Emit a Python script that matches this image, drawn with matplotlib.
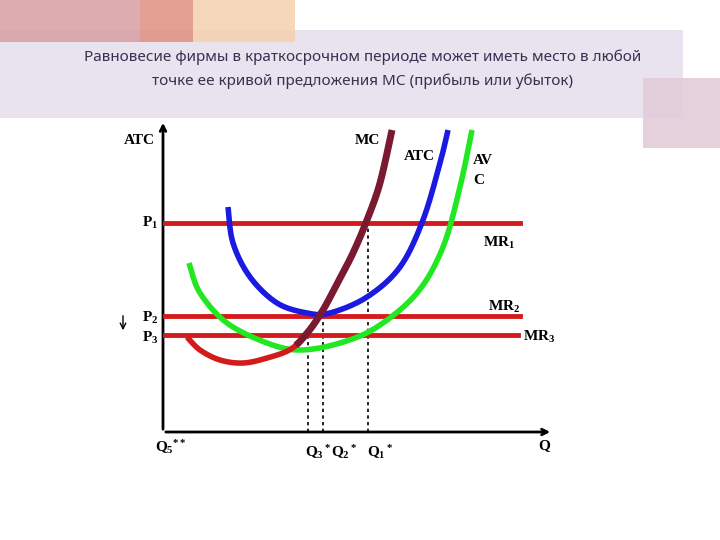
import numpy as np
import matplotlib
matplotlib.use("Agg")
import matplotlib.pyplot as plt
from matplotlib.patches import Rectangle

plt.rcParams["mathtext.fontset"] = "custom"
plt.rcParams["mathtext.rm"] = "Liberation Serif:bold"
plt.rcParams["mathtext.it"] = "Liberation Serif:bold"
plt.rcParams["mathtext.bf"] = "Liberation Serif:bold"
plt.rcParams["mathtext.default"] = "rm"

# Curve data (Q, price); origin at axes corner
atc_q = [65, 70, 87, 114, 144, 167, 204, 237, 260, 277, 285]
atc_p = [225, 189, 155, 129, 119, 119, 135, 165, 212, 269, 302]
avc_q = [26, 37, 64, 104, 137, 177, 214, 254, 280, 297, 309]
avc_p = [169, 139, 109, 89, 82, 89, 105, 139, 185, 245, 302]
mc_q = [24, 37, 57, 80, 104, 128, 145, 160, 175, 190, 204, 217, 229]
mc_p = [95, 82, 72, 69, 74, 83, 100, 122, 150, 179, 212, 249, 302]
price_levels = [209, 116, 97]
price_labels = ["P$_1$", "P$_2$", "P$_3$"]
mr_labels = ["MR$_1$", "MR$_2$", "MR$_3$"]
q_star = [145, 160, 205]
q_star_p = [97, 116, 209]
q_labels = ["Q$_3$$^*$", "Q$_2$$^*$", "Q$_1$$^*$"]

def smooth(xs, ys, n=20):
    P = np.column_stack([xs, ys]).astype(float)
    P = np.vstack([P[0], P, P[-1]])
    out = []
    for i in range(1, len(P) - 2):
        p0, p1, p2, p3 = P[i-1], P[i], P[i+1], P[i+2]
        for t in np.linspace(0, 1, n, endpoint=False):
            out.append(0.5 * ((2*p1) + (-p0+p2)*t + (2*p0-5*p1+4*p2-p3)*t*t + (-p0+3*p1-3*p2+p3)*t**3))
    out.append(P[-2])
    out = np.array(out)
    return out[:, 0], out[:, 1]

fig = plt.figure(figsize=(7.2, 5.4), dpi=100)
ax = fig.add_axes([0, 0, 1, 1])
ax.set_xlim(-163, 557)
ax.set_ylim(-108, 432)
ax.axis("off")

def px(x, y):
    return x - 163, 432 - y

def rect(x0, y0, x1, y1, c, z=0, a=1):
    u, v = px(x0, y1)
    ax.add_patch(Rectangle((u, v), x1 - x0, y1 - y0, color=c, zorder=z, lw=0, alpha=a))

rect(0, 30, 683, 118, "#e9e2ef")
rect(0, 0, 140, 42, "#d69ea3", 1, 0.85)
rect(140, 0, 193, 42, "#de8f80", 1, 0.85)
rect(193, 0, 295, 42, "#f5d0ae", 1, 0.85)
rect(643, 78, 720, 148, "#e2ccd8", 1, 0.9)

ax.text(*px(363, 57), "Равновесие фирмы в краткосрочном периоде может иметь место в любой",
        ha="center", va="center", fontsize=11, family="Noto Sans", color="#3a3050", zorder=3)
ax.text(*px(363, 81), "точке ее кривой предложения МС (прибыль или убыток)",
        ha="center", va="center", fontsize=11, family="Noto Sans", color="#3a3050", zorder=3)

ax.annotate("", xy=(0, 312), xytext=(0, 0), arrowprops=dict(arrowstyle="->", lw=2, color="k"))
ax.annotate("", xy=(390, 0), xytext=(0, 0), arrowprops=dict(arrowstyle="->", lw=2, color="k"))

for q, p in zip(q_star, q_star_p):
    ax.plot([q, q], [0, p], ls=(0, (2, 2)), color="k", lw=1.2, zorder=2)

ends = [357, 357, 355]
for p, e in zip(price_levels, ends):
    ax.plot([2, e], [p, p], color="#d41a1a", lw=3.5, zorder=3)

x, y = smooth(atc_q, atc_p); ax.plot(x, y, color="#1a1ae0", lw=4, zorder=4, solid_capstyle="butt")
x, y = smooth(avc_q, avc_p); ax.plot(x, y, color="#22e822", lw=4, zorder=4, solid_capstyle="butt")
x, y = smooth(mc_q, mc_p)
m = x <= 134
ax.plot(x[m], y[m], color="#d41a1a", lw=4, zorder=5, solid_capstyle="butt")
ax.plot(x[x >= 132], y[x >= 132], color="#7a1a30", lw=5, zorder=5, solid_capstyle="butt")

tk = dict(family="Liberation Serif", weight="bold", fontsize=11, color="k")
ax.text(*px(124, 140), "ATC", ha="left", va="center", **tk)
ax.text(*px(355, 140), "MC", ha="left", va="center", **tk)
ax.text(*px(404, 156), "ATC", ha="left", va="center", **tk)
ax.text(*px(473, 160), "AV", ha="left", va="center", **tk)
ax.text(*px(473, 181), "C", ha="left", va="center", **tk)
for lab, y in zip(price_labels, [223, 318, 338]):
    ax.text(*px(142, y), lab, ha="left", va="center", **tk)
for lab, (xx, yy) in zip(mr_labels, [(483, 243), (488, 307), (523, 337)]):
    ax.text(*px(xx, yy), lab, ha="left", va="center", **tk)
ax.annotate("", xy=px(123, 333), xytext=px(123, 313), arrowprops=dict(arrowstyle="->", lw=1, color="k"))
ax.text(*px(155, 447), "Q$_5$$^{**}$", ha="left", va="center", **tk)
ax.text(*px(538, 446), "Q", ha="left", va="center", **tk)
for lab, xx in zip(q_labels, [305, 331, 367]):
    ax.text(*px(xx, 452), lab, ha="left", va="center", **tk)

fig.savefig("out.png", dpi=100, facecolor="white")
